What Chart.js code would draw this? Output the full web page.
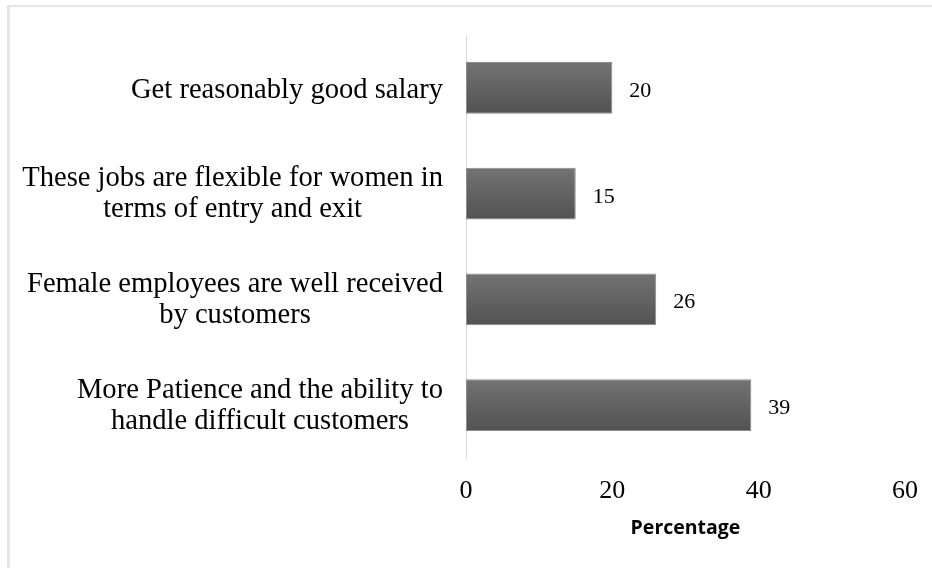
<!DOCTYPE html>
<html>
<head>
<meta charset="utf-8">
<script src="https://cdn.jsdelivr.net/npm/chart.js@4/dist/chart.umd.min.js"></script>
<style>
    html, body { margin: 0; padding: 0; background: #fff; overflow: hidden; }
    #wrap { position: relative; width: 932px; height: 568px; }
    #frame {
        position: absolute; left: 7px; top: 5px; width: 960px; height: 600px;
        border-left: 3px solid #e2e6ef; border-top: 2px solid #e2e6ef;
    }
    canvas { position: absolute; left: 0; top: 0; }
</style>
</head>
<body>
<div id="wrap">
    <div id="frame"></div>
    <canvas id="chart" width="932" height="568"></canvas>
</div>
<script>
const CATEGORIES = [
    ['Get reasonably good salary'],
    ['These jobs are flexible for women in', 'terms of entry and exit'],
    ['Female employees are well received', 'by customers'],
    ['More Patience and the ability to', 'handle difficult customers']
];
const VALUES = [20, 15, 26, 39];
const X_TICKS = [0, 20, 40, 60];
const AXIS_TITLE = 'Percentage';

const SERIF = '"Liberation Serif", "Times New Roman", serif';
const BAR_PCT = 0.49;

// category labels: each block right-aligned to the axis, lines centred inside the block
const categoryLabels = {
    id: 'categoryLabels',
    afterDraw(chart) {
        const { ctx, chartArea } = chart;
        const ys = chart.scales.y;
        ctx.save();
        ctx.font = '28.6px ' + SERIF;
        ctx.fillStyle = '#000';
        ctx.textAlign = 'center';
        ctx.textBaseline = 'alphabetic';
        const lh = 31;
        CATEGORIES.forEach((lines, i) => {
            const y = ys.getPixelForValue(i);
            const w = Math.max(...lines.map(l => ctx.measureText(l).width));
            const cx = chartArea.left - 23 - w / 2;
            const off = lines.length > 1 ? 8 : 10;
            lines.forEach((l, j) => {
                ctx.fillText(l, cx, y + off + (j - (lines.length - 1) / 2) * lh);
            });
        });
        ctx.restore();
    }
};

const valueLabels = {
    id: 'valueLabels',
    afterDatasetsDraw(chart) {
        const { ctx } = chart;
        const meta = chart.getDatasetMeta(0);
        ctx.save();
        ctx.font = '22px ' + SERIF;
        ctx.fillStyle = '#000';
        ctx.textAlign = 'left';
        ctx.textBaseline = 'alphabetic';
        meta.data.forEach((bar, i) => {
            ctx.fillText(String(VALUES[i]), bar.x + 17, bar.y + 9);
        });
        ctx.restore();
    }
};

new Chart(document.getElementById('chart'), {
    type: 'bar',
    data: {
        labels: CATEGORIES,
        datasets: [{
            data: VALUES,
            backgroundColor: (c) => {
                const ys = c.chart.scales.y;
                if (!ys || c.dataIndex === undefined) return '#606060';
                const yc = ys.getPixelForValue(c.dataIndex);
                const half = ys.height / CATEGORIES.length * BAR_PCT / 2;
                if (!isFinite(yc) || !isFinite(half) || half <= 0) return '#606060';
                const g = c.chart.ctx.createLinearGradient(0, yc - half, 0, yc + half);
                g.addColorStop(0, '#737373');
                g.addColorStop(1, '#525252');
                return g;
            },
            borderColor: '#8c8c8c',
            borderWidth: 1,
            borderSkipped: false,
            barPercentage: BAR_PCT,
            categoryPercentage: 1
        }]
    },
    options: {
        indexAxis: 'y',
        responsive: false,
        animation: false,
        layout: { padding: { top: 35, right: 27, bottom: 0, left: 0 } },
        plugins: {
            legend: { display: false },
            tooltip: { enabled: false }
        },
        scales: {
            y: {
                ticks: { display: false },
                grid: { display: false, drawTicks: false },
                border: { display: true, color: '#d9dae8', width: 1 },
                afterFit: (s) => { s.width = 466; }
            },
            x: {
                min: X_TICKS[0],
                max: X_TICKS[X_TICKS.length - 1],
                afterBuildTicks: (s) => { s.ticks = X_TICKS.map(v => ({ value: v })); },
                ticks: {
                    color: '#000',
                    padding: 18,
                    font: { family: SERIF, size: 26 }
                },
                grid: { display: false, drawTicks: false },
                border: { display: false },
                title: {
                    display: true,
                    text: AXIS_TITLE,
                    color: '#000',
                    font: { family: '"Open Sans", sans-serif', size: 19.5, weight: 'bold' },
                    padding: { top: 4, bottom: 28 }
                },
                afterFit: (s) => {
                    s.height = 110;
                    s.paddingLeft = 0;
                    s.paddingRight = 0;
                }
            }
        }
    },
    plugins: [categoryLabels, valueLabels]
});
</script>
</body>
</html>
